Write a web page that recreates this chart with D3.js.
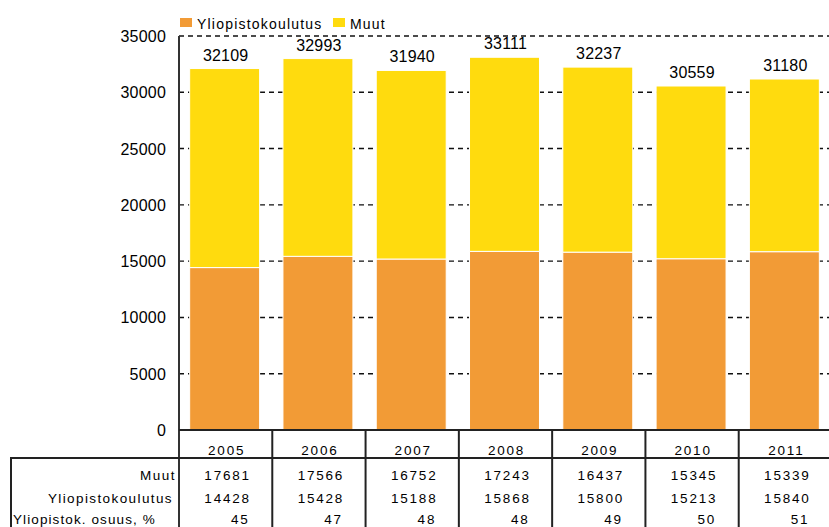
<!DOCTYPE html>
<html><head><meta charset="utf-8">
<script src="https://cdn.jsdelivr.net/npm/d3@7"></script>
<style>
body{margin:0;background:#fff;}
text{font-family:"Liberation Sans",Arial,sans-serif;fill:#000;}
</style></head>
<body><svg id="c" width="829" height="527"></svg>
<script>
const years = ["2005","2006","2007","2008","2009","2010","2011"];
const yliopisto = [14428,15428,15188,15868,15800,15213,15840];
const muut = [17681,17566,16752,17243,16437,15345,15339];
const totals = [32109,32993,31940,33111,32237,30559,31180];
const osuus = [45,47,48,48,49,50,51];
const yTicks = [0,5000,10000,15000,20000,25000,30000,35000];
const seriesNames = ["Yliopistokoulutus","Muut"];
const rowLabels = ["Muut","Yliopistokoulutus","Yliopistok. osuus, %"];
const colors = ["#F29B36","#FFDB0E"];

const svg = d3.select("#c");
const x = d3.scaleBand().domain(years).range([179,832]).paddingInner(0.25).paddingOuter(0.125);
const y = d3.scaleLinear().domain([0,35000]).range([430,36]);

// gridlines
svg.append("g").selectAll("line").data(yTicks.filter(d=>d>0)).join("line")
  .attr("x1",179).attr("x2",829).attr("y1",d=>y(d)).attr("y2",d=>y(d))
  .attr("stroke","#111").attr("stroke-width",1.4).attr("stroke-dasharray","5,4");

// y tick labels
svg.append("g").selectAll("text").data(yTicks).join("text")
  .attr("x",166).attr("y",d=>y(d)+6).attr("text-anchor","end")
  .attr("font-size",16).attr("letter-spacing",0.2).text(d=>d);

// stacked bars
const data = years.map((yr,i)=>({year:yr, Yliopistokoulutus:yliopisto[i], Muut:muut[i]}));
const stack = d3.stack().keys(seriesNames)(data);
svg.append("g").selectAll("g").data(stack).join("g").attr("fill",(d,i)=>colors[i])
  .selectAll("rect").data(d=>d).join("rect")
  .attr("x",d=>x(d.data.year)-1).attr("width",x.bandwidth())
  .attr("y",d=>y(d[1])).attr("height",d=>y(d[0])-y(d[1]))
  .attr("stroke","#fff").attr("stroke-width",1);

// totals
svg.append("g").selectAll("text").data(totals).join("text")
  .attr("x",(d,i)=>x(years[i])+x.bandwidth()/2).attr("y",d=>y(d)-8)
  .attr("text-anchor","middle").attr("font-size",16).attr("letter-spacing",0.2).text(d=>d);

// axis lines
svg.append("line").attr("x1",179).attr("x2",179).attr("y1",36).attr("y2",527).attr("stroke","#333").attr("stroke-width",2);
svg.append("line").attr("x1",179).attr("x2",829).attr("y1",430).attr("y2",430).attr("stroke","#222").attr("stroke-width",2);
svg.append("line").attr("x1",10).attr("x2",829).attr("y1",458).attr("y2",458).attr("stroke","#222").attr("stroke-width",2);
svg.append("line").attr("x1",11).attr("x2",11).attr("y1",458).attr("y2",527).attr("stroke","#222").attr("stroke-width",2);
svg.append("g").selectAll("line").data(years.slice(1)).join("line")
  .attr("x1",d=>x(d)-x.step()*x.paddingInner()/2).attr("x2",d=>x(d)-x.step()*x.paddingInner()/2)
  .attr("y1",430).attr("y2",527).attr("stroke","#222").attr("stroke-width",2);

// table
const cx = yr => x(yr)+x.bandwidth()/2;
svg.append("g").selectAll("text").data(years).join("text")
  .attr("x",d=>cx(d)+1).attr("y",455).attr("text-anchor","middle")
  .attr("font-size",13.5).attr("letter-spacing",1.8).text(d=>d);
[muut,yliopisto].forEach((arr,r)=>{
  svg.append("g").selectAll("text").data(arr).join("text")
    .attr("x",(d,i)=>cx(years[i])+2).attr("y",480+r*23).attr("text-anchor","middle")
    .attr("font-size",13.5).attr("letter-spacing",1.8).text(d=>d);
});
svg.append("g").selectAll("text").data(osuus).join("text")
  .attr("x",(d,i)=>cx(years[i])+24).attr("y",524).attr("text-anchor","end")
  .attr("font-size",13.5).attr("letter-spacing",1.8).text(d=>d);
svg.append("text").attr("x",176).attr("y",480).attr("text-anchor","end").attr("font-size",13.5).attr("letter-spacing",1.5).text(rowLabels[0]);
svg.append("text").attr("x",173).attr("y",503).attr("text-anchor","end").attr("font-size",13.5).attr("letter-spacing",1.4).text(rowLabels[1]);
svg.append("text").attr("x",13).attr("y",524).attr("font-size",13.5).attr("letter-spacing",1.1).text(rowLabels[2]);

// legend
const leg = svg.append("g");
const legX = [180,333];
seriesNames.forEach((n,i)=>{
  leg.append("rect").attr("x",legX[i]).attr("y",18).attr("width",12).attr("height",9).attr("fill",colors[i]);
  leg.append("text").attr("x",legX[i]+17).attr("y",29).attr("font-size",14).attr("letter-spacing",1.2).text(n);
});
</script></body></html>
